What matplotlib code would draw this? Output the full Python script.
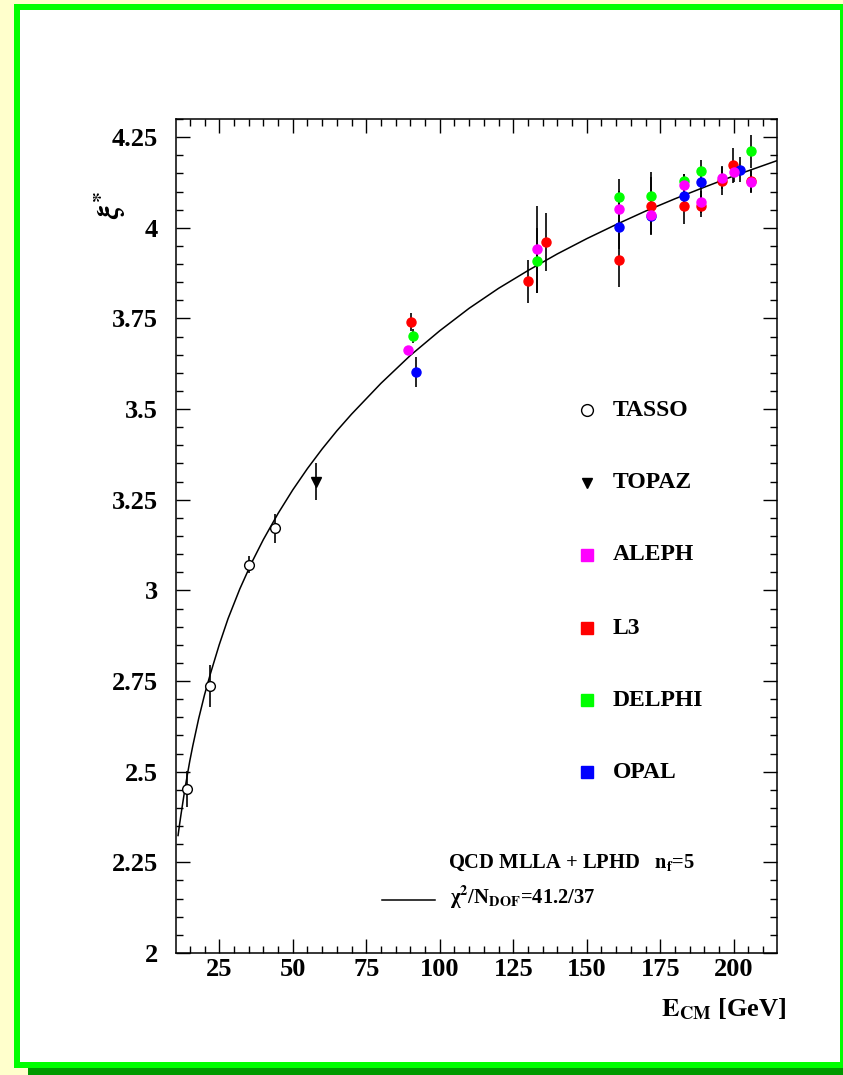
import matplotlib
matplotlib.use("Agg")
import matplotlib.pyplot as plt
from matplotlib.patches import Rectangle
from matplotlib.lines import Line2D
from matplotlib.ticker import MultipleLocator, FixedLocator, FuncFormatter

# ---------------- data ----------------
tasso_E = [14, 22, 35, 44]
tasso_v = [2.452, 2.737, 3.071, 3.172]
tasso_err = [0.05, 0.058, 0.023, 0.04]

topaz_E = [58]
topaz_v = [3.30]
topaz_err = [0.05]

aleph_E = [89.1, 133, 161, 172, 183, 189, 196, 200, 206]
aleph_v = [3.662, 3.941, 4.051, 4.035, 4.118, 4.072, 4.137, 4.155, 4.127]
aleph_err = [0.012, 0.12, 0.05, 0.04, 0.03, 0.03, 0.03, 0.03, 0.03]

l3_E = [90.1, 130.1, 136, 161, 172, 183, 189, 196, 199.8, 206]
l3_v = [3.740, 3.852, 3.960, 3.911, 4.061, 4.061, 4.061, 4.130, 4.172, 4.130]
l3_err = [0.025, 0.059, 0.08, 0.075, 0.08, 0.05, 0.03, 0.04, 0.048, 0.03]

delphi_E = [91.0, 133, 161, 172, 183, 189, 206]
delphi_v = [3.701, 3.909, 4.085, 4.088, 4.130, 4.157, 4.211]
delphi_err = [0.02, 0.09, 0.05, 0.066, 0.018, 0.03, 0.045]

opal_E = [91.9, 161, 172, 183, 189, 202]
opal_v = [3.603, 4.001, 4.033, 4.088, 4.125, 4.160]
opal_err = [0.042, 0.06, 0.05, 0.04, 0.04, 0.035]

# fitted QCD MLLA curve
fit_E = [11, 11.5, 12, 13, 14, 15, 16, 18, 20, 22, 25, 28, 32, 36, 40,
         45, 50, 55, 60, 65, 70, 80, 90, 100, 110, 120, 130, 140, 150,
         160, 170, 180, 190, 200, 215]
fit_v = [2.324, 2.354, 2.382, 2.435, 2.484, 2.530, 2.571, 2.646, 2.712,
         2.770, 2.850, 2.922, 3.004, 3.076, 3.140, 3.212, 3.277, 3.336,
         3.390, 3.440, 3.486, 3.571, 3.648, 3.716, 3.778, 3.833, 3.882,
         3.928, 3.970, 4.009, 4.046, 4.080, 4.112, 4.143, 4.186]

xticks = [25, 50, 75, 100, 125, 150, 175, 200]
yticks = [2, 2.25, 2.5, 2.75, 3, 3.25, 3.5, 3.75, 4, 4.25]

legend_labels = ["TASSO", "TOPAZ", "ALEPH", "L3", "DELPHI", "OPAL"]

# ---------------- style ----------------
plt.rcParams['font.family'] = ['Liberation Serif', 'DejaVu Serif']
plt.rcParams['font.weight'] = 'bold'
plt.rcParams['mathtext.fontset'] = 'stix'

W, H = 843, 1075
fig = plt.figure(figsize=(W / 100, H / 100), dpi=100)
fig.patch.set_facecolor('#ffffcc')


def fx(px):
    return px / W


def fy(py):
    return 1 - py / H


# frame decoration: dark green shadow, green border, white interior
fig.add_artist(Rectangle((fx(28), fy(1075)), fx(830), 7 / H,
                         transform=fig.transFigure, facecolor='#009900',
                         edgecolor='none', zorder=-3))
fig.add_artist(Rectangle((fx(14), fy(1068)), fx(840), 1064 / H,
                         transform=fig.transFigure, facecolor='#00ff00',
                         edgecolor='none', zorder=-2))
fig.add_artist(Rectangle((fx(20), fy(1062)), fx(820), 1052 / H,
                         transform=fig.transFigure, facecolor='white',
                         edgecolor='none', zorder=-1))

ax = fig.add_axes([fx(176), fy(953), fx(777 - 176), (953 - 119) / H])
ax.set_facecolor('white')
ax.set_xlim(10.3, 214.7)
ax.set_ylim(2, 4.3)

for sp in ax.spines.values():
    sp.set_linewidth(1.1)

ax.xaxis.set_major_locator(FixedLocator(xticks))
ax.xaxis.set_minor_locator(MultipleLocator(5))
ax.yaxis.set_major_locator(FixedLocator(yticks))
ax.yaxis.set_minor_locator(MultipleLocator(0.05))
ax.yaxis.set_major_formatter(FuncFormatter(lambda v, p: '%g' % v))
ax.xaxis.set_major_formatter(FuncFormatter(lambda v, p: '%g' % v))
ax.tick_params(which='both', direction='in', top=True, right=True,
               width=1.0, color='black')
ax.tick_params(which='major', length=10)
ax.tick_params(which='minor', length=5)
ax.tick_params(axis='x', which='major', labelsize=19, pad=3.5)
ax.tick_params(axis='y', which='major', labelsize=19, pad=13)
for lab in ax.get_xticklabels() + ax.get_yticklabels():
    lab.set_fontweight('bold')

# fit curve
ax.plot(fit_E, fit_v, color='black', lw=1.1, zorder=1)

# error bars (behind markers)
series = [
    (tasso_E, tasso_v, tasso_err),
    (topaz_E, topaz_v, topaz_err),
    (delphi_E, delphi_v, delphi_err),
    (l3_E, l3_v, l3_err),
    (opal_E, opal_v, opal_err),
    (aleph_E, aleph_v, aleph_err),
]
for E, v, e in series:
    ax.errorbar(E, v, yerr=e, fmt='none', ecolor='black', elinewidth=1.2,
                capsize=0, zorder=2)

# markers
ax.plot(tasso_E, tasso_v, 'o', ms=7, mfc='white', mec='black', mew=1.0,
        zorder=3)
ax.plot(topaz_E, topaz_v, 'v', ms=6.5, mfc='black', mec='black', zorder=3)
ax.plot(delphi_E, delphi_v, 'o', ms=6.5, mfc='#00ff00', mec='#00ff00',
        zorder=3)
ax.plot(l3_E, l3_v, 'o', ms=6.5, mfc='#ff0000', mec='#ff0000', zorder=3)
ax.plot(opal_E, opal_v, 'o', ms=6.5, mfc='#0000ff', mec='#0000ff', zorder=3)
ax.plot(aleph_E, aleph_v, 'o', ms=6.5, mfc='#ff00ff', mec='#ff00ff',
        zorder=3)

# legend (manual)
leg_styles = [
    dict(marker='o', ms=8.5, mfc='white', mec='black', mew=1.0),
    dict(marker='v', ms=7.5, mfc='black', mec='black'),
    dict(marker='s', ms=8.5, mfc='#ff00ff', mec='#ff00ff'),
    dict(marker='s', ms=8.5, mfc='#ff0000', mec='#ff0000'),
    dict(marker='s', ms=8.5, mfc='#00ff00', mec='#00ff00'),
    dict(marker='s', ms=8.5, mfc='#0000ff', mec='#0000ff'),
]
row_px = [410, 483, 555, 628, 700, 772]
for lab, st, rp in zip(legend_labels, leg_styles, row_px):
    fig.add_artist(Line2D([fx(587)], [fy(rp)], transform=fig.transFigure,
                          linestyle='none', **st))
    fig.text(fx(613), fy(rp), lab, fontsize=17, fontweight='bold',
             va='center', ha='left')

# y label
fig.text(fx(110), fy(205), r'$\xi^{*}$', fontsize=22, rotation=90,
         ha='center', va='center')

# x label
fig.text(fx(786), fy(1016), r'$\mathbf{E_{CM}}$ [GeV]', fontsize=19,
         fontweight='bold', ha='right', va='baseline')

# fit annotation
fig.text(fx(448), fy(868), r'QCD MLLA + LPHD   $\mathbf{n_{f}}$=5',
         fontsize=14.8, fontweight='bold', ha='left', va='baseline')
fig.add_artist(Line2D([fx(382), fx(435)], [fy(900), fy(900)],
                      transform=fig.transFigure, color='black', lw=1.1))
fig.text(fx(450), fy(904), 'χ' + r'$^{\mathbf{2}}$/N$_{\mathbf{DOF}}$=41.2/37',
         fontsize=14.8, fontweight='bold', ha='left', va='baseline')

fig.savefig('out.png', dpi=100, facecolor=fig.get_facecolor())
